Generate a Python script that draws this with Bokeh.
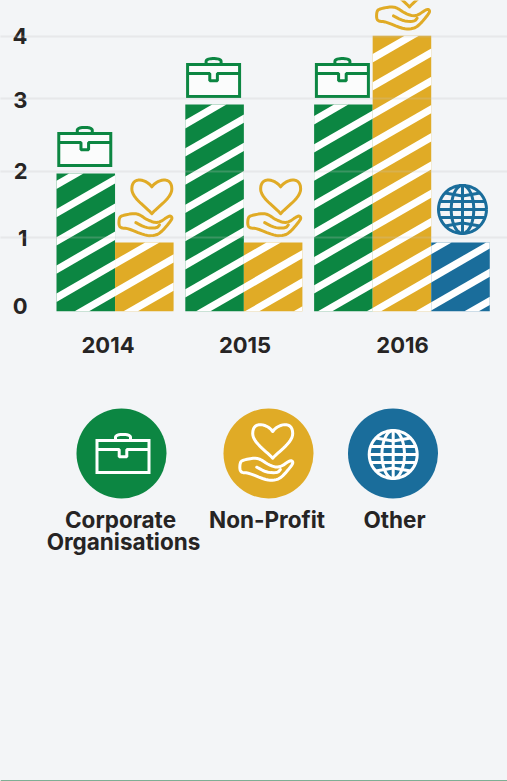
import math
from bokeh.embed import file_html
from bokeh.resources import INLINE
from bokeh.plotting import figure
from bokeh.models import Range1d, FixedTicker, Span
from bokeh.models.css import GlobalInlineStyleSheet
from bokeh.core.properties import value

# ---- data ----
YEARS = ["2014", "2015", "2016"]
CORPORATE = [2, 3, 3]
NON_PROFIT = [1, 1, 4]
OTHER = [0, 0, 1]
Y_LABELS = ["0", "1", "2", "3", "4"]
Y_LABEL_POS = [0.08, 1.07, 2.03, 3.07, 4.0]
GRID_POS = [1.07, 2.03, 3.09, 3.99]
YEAR_LABEL_POS = [0.88, 3.22, 5.91]
LEGEND = ["Corporate\nOrganisations", "Non-Profit", "Other"]

BG = "#f3f5f7"
GREEN = "#0c8642"
YELLOW = "#e0ab26"
BLUE = "#1a6d9b"
INK = "#262424"
FONT = "Inter"

# ---- scales ----
W, H = 507, 781
PX, PY = 58.55, 68.9
X0, Y0 = 56.0, 310.8
dx = lambda px: (px - X0) / PX
dy = lambda py: (Y0 - py) / PY

p = figure(width=W, height=H, output_backend="svg", toolbar_location=None,
           x_range=Range1d(dx(0), dx(W)), y_range=Range1d(dy(H), dy(0)),
           min_border=0, outline_line_color=None,
           background_fill_color=BG, border_fill_color=BG)
p.stylesheets = [GlobalInlineStyleSheet(css=f"html,body{{margin:0;padding:0;overflow:hidden;background:{BG}}}")]

# ---- bars ----
GROUP_GAP = 0.2
STRIPE_PHASE = [9.4, 13.7, 17.7]
PERIOD, THICK, SLOPE = 28.2, 8.3, math.tan(math.radians(30))


def clip(poly, axis, lim, keep_greater):
    out = []
    for i, a in enumerate(poly):
        b = poly[(i + 1) % len(poly)]
        ina = (a[axis] >= lim) if keep_greater else (a[axis] <= lim)
        inb = (b[axis] >= lim) if keep_greater else (b[axis] <= lim)
        if ina:
            out.append(a)
        if ina != inb:
            t = (lim - a[axis]) / (b[axis] - a[axis])
            out.append((a[0] + t * (b[0] - a[0]), a[1] + t * (b[1] - a[1])))
    return out


bx, bt, bc = [], [], []
sx, sy = [], []
tops = {}
cursor = 0.0
for g, year in enumerate(YEARS):
    start = cursor
    for name, vals, col in (("c", CORPORATE, GREEN), ("n", NON_PROFIT, YELLOW), ("o", OTHER, BLUE)):
        v = vals[g]
        if v == 0:
            continue
        bx.append(cursor + 0.5); bt.append(v); bc.append(col)
        tops[(name, g)] = (cursor + 0.5, v)
        # white diagonal stripes of this bar, phase shared across the group
        x0px, x1px = (cursor - start) * PX, (cursor + 1 - start) * PX
        hpx = v * PY
        for k in range(-20, 30):
            lo = STRIPE_PHASE[g] + k * PERIOD
            hi = lo + THICK
            poly = [(x0px, lo + SLOPE * x0px), (x1px, lo + SLOPE * x1px),
                    (x1px, hi + SLOPE * x1px), (x0px, hi + SLOPE * x0px)]
            poly = clip(poly, 1, 0, True)
            if poly:
                poly = clip(poly, 1, hpx, False)
            if len(poly) >= 3:
                sx.append([start + q[0] / PX for q in poly])
                sy.append([q[1] / PY for q in poly])
        cursor += 1
    cursor += GROUP_GAP

p.vbar(x=bx, top=bt, bottom=0, width=1.0, color=bc, line_color=None)
p.patches(sx, sy, fill_color="white", line_color=None)

# ---- axes and grid ----
p.xaxis.fixed_location = 0
p.yaxis.fixed_location = dx(35)
p.xaxis.ticker = FixedTicker(ticks=YEAR_LABEL_POS)
p.xaxis.major_label_overrides = dict(zip(YEAR_LABEL_POS, YEARS))
p.yaxis.ticker = FixedTicker(ticks=Y_LABEL_POS)
p.yaxis.major_label_overrides = dict(zip(Y_LABEL_POS, Y_LABELS))
for ax in (p.xaxis[0], p.yaxis[0]):
    ax.axis_line_color = None
    ax.major_tick_line_color = None
    ax.minor_tick_line_color = None
    ax.major_label_text_font = FONT
    ax.major_label_text_font_style = "bold"
    ax.major_label_text_color = INK
    ax.major_label_text_font_size = "22px"
p.xaxis[0].major_label_standoff = 20
p.yaxis[0].major_label_standoff = 2
p.yaxis[0].major_label_orientation = "horizontal"

p.xgrid.visible = False
p.ygrid.ticker = FixedTicker(ticks=GRID_POS)
p.ygrid.bounds = (dx(28), dx(490))
p.ygrid.grid_line_color = "#c4c4c4"
p.ygrid.grid_line_alpha = 0.25
p.ygrid.grid_line_width = 2
p.ygrid.level = "overlay"

p.add_layout(Span(location=dy(780.5), dimension="width", line_color="#7fae94", line_width=2))


# ---- icons (shape offsets in pixels) ----
def cubic(a, b, c, d, n=14):
    pts = []
    for i in range(n + 1):
        t = i / n
        u = 1 - t
        pts.append(tuple(u**3 * a[j] + 3 * u * u * t * b[j] + 3 * u * t * t * c[j] + t**3 * d[j] for j in (0, 1)))
    return pts


def chaikin(pts, closed=False, rounds=2):
    for _ in range(rounds):
        out = [pts[0]] if not closed else []
        m = len(pts) if closed else len(pts) - 1
        for i in range(m):
            a, b = pts[i], pts[(i + 1) % len(pts)]
            out.append((0.75 * a[0] + 0.25 * b[0], 0.75 * a[1] + 0.25 * b[1]))
            out.append((0.25 * a[0] + 0.75 * b[0], 0.25 * a[1] + 0.75 * b[1]))
        if not closed:
            out.append(pts[-1])
        pts = out
    return pts


HAND = chaikin([(-25.2, 17.7), (-22.8, 20.3), (-10.2, 22.7), (-4.2, 21), (3.2, 15.7), (13.8, 12.3),
                (24.8, 20.3), (27.8, 19), (27.2, 15.7), (15.8, 2.3), (8.2, 0), (0, 0.7),
                (-16.8, 7.7), (-22.8, 7.7), (-25.5, 10.3)], closed=True)
THUMB = chaikin([(-8.5, 13.3), (1.5, 8), (12.5, 7.7), (15.2, 11)])
hc = 7.5
_right = cubic((0, 49), (5, 56.5), (20, 60.5), (20, 47)) + cubic((20, 47), (20, 38), (7, 30), (0, 22.3))[1:]
HEART = [(hc + a, b) for a, b in _right] + [(hc - a, b) for a, b in reversed(_right[:-1])]
CASE_BODY = [(-26, 0), (26, 0), (26, 32), (-26, 32)]
CASE_BAND = [(-26, 23), (-3.8, 23), (-3.8, 15.8), (3.8, 15.8), (3.8, 23), (26, 23)]
CASE_HANDLE = chaikin([(-7.5, 32), (-7.5, 38), (7.5, 38), (7.5, 32)], rounds=3)
STROKE = 3


def to_data(pts, cx, by):
    return [cx + a / PX for a, _ in pts], [by + b / PY for _, b in pts]


def draw_case(cx, by, col, fill):
    x, y = to_data(CASE_BODY + CASE_BODY[:1], cx, by)
    p.patch(x, y, fill_color=fill, line_color=col, line_width=STROKE, line_join="miter")
    for shape in (CASE_BAND, CASE_HANDLE):
        x, y = to_data(shape, cx, by)
        p.line(x, y, line_color=col, line_width=STROKE)


def draw_care(cx, by, col):
    for shape, closed in ((HEART, True), (HAND, True), (THUMB, False)):
        s = shape + shape[:1] if closed else shape
        x, y = to_data(s, cx, by)
        p.line(x, y, line_color=col, line_width=STROKE, line_join="round", line_cap="round")


def draw_globe(cx, cy, col, r=24):
    ring = [(r * math.cos(t / 48 * 2 * math.pi), r * math.sin(t / 48 * 2 * math.pi)) for t in range(49)]
    oval = [(r * 0.47 * math.cos(t / 48 * 2 * math.pi), r * math.sin(t / 48 * 2 * math.pi)) for t in range(49)]
    lines = [ring, oval, [(0, -r), (0, r)]]
    for off in (-8, 0, 8):
        c = math.sqrt(r * r - off * off)
        lines.append([(-c, off), (c, off)])
    for off in (-16.5, 16.5):
        c = math.sqrt(r * r - off * off)
        lines.append([(-c, off), (0, off + (3 if off < 0 else -3)), (c, off)])
    for s in lines:
        x, y = to_data(s, cx, cy)
        p.line(x, y, line_color=col, line_width=STROKE)


for g in range(3):
    cx, v = tops[("c", g)]
    draw_case(cx - 1 / PX, v + 8 / PY, GREEN, "#fbfcfc")
    cx, v = tops[("n", g)]
    draw_care(cx, v + 6.5 / PY, YELLOW)
cx, v = tops[("o", 2)]
draw_globe(cx + 2 / PX, v + 33 / PY, BLUE)

# ---- legend ----
LEG_X = [121, 268, 392.5]
LEG_COL = [GREEN, YELLOW, BLUE]
p.circle([dx(a) for a in LEG_X], [dy(453)] * 3, radius=45 / PX, radius_dimension="x",
         fill_color=LEG_COL, line_color=None)
draw_case(dx(122.5), dy(472), "white", None)
draw_care(dx(264.7), dy(480), "white")
draw_globe(dx(392.7), dy(454), "white")

TX = [120, 123, 266.5, 394]
TY = [519, 540.5, 519, 519]
TS = LEGEND[0].split("\n") + LEGEND[1:]
p.text([dx(a) for a in TX], [dy(a) for a in TY], text=TS, text_font=value(FONT), text_font_style="bold",
       text_font_size="22.5px", text_color=INK, text_align="center", text_baseline="alphabetic")

open("out.html", "w").write(file_html(p, INLINE))
